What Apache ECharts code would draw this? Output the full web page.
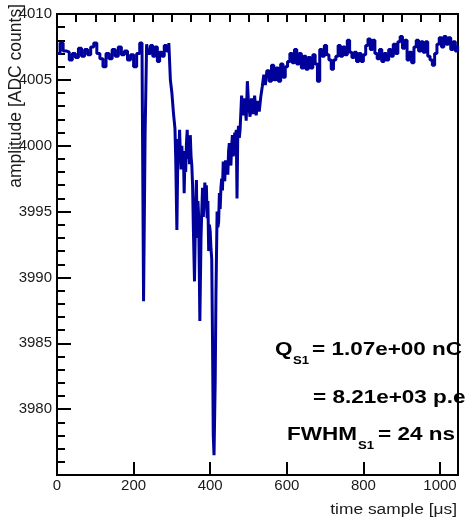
<!DOCTYPE html>
<html>
<head>
<meta charset="utf-8">
<script src="https://cdn.jsdelivr.net/npm/echarts@6.0.0/dist/echarts.min.js"></script>
<style>
  html, body { margin: 0; padding: 0; background: #fff; }
  #chart { width: 468px; height: 523px; }
</style>
</head>
<body>
<div id="chart"></div>
<script>
// Waveform of one S1 pulse as [time sample, ADC amplitude] pairs
const preTrigger = [
  [0, 4007.0], [8, 4007.8], [16, 4007.2], [24, 4007.1], [32, 4006.5], [40, 4007.0], [48, 4006.7], [56, 4007.4],
  [64, 4006.8], [72, 4007.3], [80, 4006.9], [88, 4007.5], [96, 4007.8], [104, 4007.0], [112, 4006.6], [120, 4006.0],
  [128, 4007.0], [136, 4006.6], [144, 4007.3], [152, 4006.8], [160, 4007.5], [168, 4006.9], [176, 4007.2], [184, 4006.5],
  [192, 4006.9], [200, 4006.0], [208, 4007.0], [216, 4007.8], [222, 4007.2], [226, 3988.2], [230, 4000.8], [234, 4007.7],
  [238, 4007.0], [244, 4007.6], [250, 4006.8], [256, 4007.5], [262, 4006.4], [268, 4007.1], [274, 4006.8], [280, 4007.6],
  [286, 4007.2], [292, 4007.8]
];
const pulseSamples = [
  [296, 4005.0], [300, 4004.0], [304, 4002.5], [308, 4001.3], [310, 3999.0], [313, 3993.6], [316, 4000.5], [318, 3998.8],
  [320, 4001.2], [322, 3999.5], [324, 3998.2], [326, 4000.0], [328, 3998.3], [330, 3999.6], [332, 3996.4], [334, 3999.0],
  [336, 3998.0], [338, 4000.2], [340, 4001.2], [342, 3999.0], [344, 4000.5], [346, 3998.6], [348, 4000.8], [350, 3999.2],
  [352, 3998.5], [354, 3997.0], [356, 3993.8], [359, 3989.7], [362, 3995.5], [364, 3997.4], [366, 3993.0], [368, 3995.8],
  [370, 3994.5], [373, 3986.7], [376, 3993.0], [378, 3995.0], [380, 3996.8], [382, 3994.6], [384, 3995.5], [386, 3997.2],
  [388, 3996.0], [390, 3997.0], [392, 3994.5], [394, 3995.8], [396, 3992.0], [398, 3994.0], [400, 3993.5], [402, 3992.2],
  [404, 3991.4], [406, 3985.4], [408, 3978.0], [410, 3976.5], [413, 3982.0], [415, 3988.6], [418, 3995.0], [420, 3993.8],
  [422, 3994.2], [424, 3996.4], [426, 3995.2], [428, 3996.8], [430, 3997.5], [432, 3996.6], [434, 3998.8], [436, 3997.6],
  [438, 3997.3], [440, 3998.9], [442, 3998.0], [444, 3998.6], [446, 3997.8], [448, 3999.6], [450, 4000.2], [452, 3999.0],
  [454, 3998.5], [456, 4000.0], [458, 4000.8], [460, 3999.2], [462, 3999.5], [464, 4001.0], [466, 4000.4], [468, 4001.2],
  [470, 3996.0], [472, 4000.8], [474, 4001.5], [476, 4000.6], [478, 4001.2]
];
const recoverySamples = [
  [482, 4003.8], [486, 4002.3], [490, 4003.6], [494, 4001.9], [497, 4004.9], [500, 4003.3], [504, 4002.2], [508, 4003.6],
  [512, 4002.4], [516, 4003.8], [520, 4002.3], [524, 4003.4], [528, 4002.6], [532, 4003.7], [536, 4004.5], [540, 4005.4],
  [544, 4004.6], [548, 4005.7], [554, 4004.9], [560, 4006.1], [566, 4005.0], [572, 4005.9], [578, 4004.9], [584, 4006.2],
  [590, 4005.2], [596, 4006.0], [602, 4006.4], [608, 4007.0], [614, 4006.3], [620, 4007.3], [626, 4006.2], [632, 4007.0],
  [638, 4005.9], [644, 4006.8], [650, 4005.8], [656, 4006.7], [662, 4005.9], [668, 4006.9], [674, 4006.2], [680, 4004.9],
  [686, 4007.3], [692, 4006.8], [698, 4007.6], [704, 4006.9], [710, 4006.5], [716, 4005.8], [722, 4006.5], [728, 4006.8],
  [734, 4007.6], [740, 4006.8], [746, 4007.5], [752, 4006.9], [758, 4008.0], [764, 4007.1], [770, 4006.7], [776, 4007.1],
  [782, 4006.4], [788, 4007.0], [794, 4006.4], [800, 4006.9], [806, 4007.6], [812, 4008.1], [818, 4007.3], [824, 4008.0],
  [830, 4007.0], [836, 4006.6], [842, 4007.3], [848, 4006.4], [854, 4007.0], [860, 4006.5], [866, 4007.3], [872, 4006.8],
  [878, 4007.7], [884, 4007.0], [890, 4007.9], [896, 4008.3], [902, 4007.4], [908, 4008.0], [914, 4006.5], [920, 4007.1],
  [926, 4006.3], [932, 4007.5], [938, 4008.0], [944, 4007.2], [950, 4007.9], [956, 4007.1], [962, 4007.9], [968, 4006.8],
  [974, 4006.5], [980, 4006.1], [986, 4007.0], [992, 4007.7], [998, 4008.2], [1004, 4007.5], [1010, 4008.3], [1016, 4007.7],
  [1022, 4008.2], [1028, 4007.3], [1034, 4007.9], [1040, 4007.2], [1046, 4007.6]
];

// Axis ranges and tick spacing
const timeRange = [0, 1047];
const timeMajorStep = 200;
const timeMinorStep = 50;
const ampRange = [3975, 4010];
const ampMajorStep = 5;
const ampMinorStep = 1;

// Pulse summary shown in the lower right
const chargeText = '= 1.07e+00 nC';
const photoElectronText = '= 8.21e+03 p.e';
const fwhmText = '= 24 ns';

const FONT = 'Liberation Sans';
const waveform = preTrigger.concat(pulseSamples, recoverySamples);

const chart = echarts.init(document.getElementById('chart'), null, { renderer: 'canvas' });

const tickAxisCommon = {
  axisLine: { show: false },
  axisLabel: { show: false },
  splitLine: { show: false }
};
const plainNumber = v => String(Math.round(v));

chart.setOption({
  animation: false,
  backgroundColor: '#ffffff',
  grid: {
    left: 57, right: 10, top: 14, bottom: 48,
    show: true, borderColor: '#000', borderWidth: 2, backgroundColor: 'transparent'
  },
  xAxis: [
    {
      type: 'value', min: timeRange[0], max: timeRange[1], interval: timeMajorStep,
      axisLine: { lineStyle: { color: '#000', width: 2 } },
      axisTick: { inside: true, length: 13, lineStyle: { color: '#000', width: 2 } },
      axisLabel: { showMaxLabel: false, margin: 3, color: '#1a1a1a', fontFamily: FONT, fontSize: 15, formatter: plainNumber },
      splitLine: { show: false }
    },
    Object.assign({
      type: 'value', min: timeRange[0], max: timeRange[1], interval: timeMinorStep,
      axisTick: { inside: true, length: 8, lineStyle: { color: '#000', width: 2 } }
    }, tickAxisCommon)
  ],
  yAxis: [
    {
      type: 'value', min: ampRange[0], max: ampRange[1], interval: ampMajorStep,
      axisLine: { lineStyle: { color: '#000', width: 2 } },
      axisTick: { inside: true, length: 14, lineStyle: { color: '#000', width: 2 } },
      axisLabel: { showMinLabel: false, margin: 5, color: '#1a1a1a', fontFamily: FONT, fontSize: 15, formatter: plainNumber },
      splitLine: { show: false }
    },
    Object.assign({
      type: 'value', position: 'left', min: ampRange[0], max: ampRange[1], interval: ampMinorStep,
      axisTick: { inside: true, length: 8, lineStyle: { color: '#000', width: 2 } }
    }, tickAxisCommon)
  ],
  series: [{
    type: 'line',
    xAxisIndex: 0,
    yAxisIndex: 0,
    data: waveform,
    step: 'end',
    showSymbol: false,
    clip: true,
    lineStyle: { color: '#00009a', width: 3 }
  }],
  graphic: {
    elements: [
      // axis titles
      {
        type: 'text', x: 16, y: 4, rotation: Math.PI / 2,
        style: { text: 'amplitude [ADC counts]', fontFamily: FONT, fontSize: 17.5, fill: '#1a1a1a', align: 'right', verticalAlign: 'middle' }
      },
      {
        type: 'text', x: 457, y: 510, scaleX: 1.24,
        style: { text: 'time sample [\u03bcs]', fontFamily: FONT, fontSize: 14, fill: '#1a1a1a', align: 'right', verticalAlign: 'middle' }
      },
      // pulse summary
      { type: 'text', x: 275, y: 350, scaleX: 1.25, z: 10,
        style: { text: 'Q', fontFamily: FONT, fontWeight: 'bold', fontSize: 18, fill: '#000', align: 'left', verticalAlign: 'middle' } },
      { type: 'text', x: 293, y: 361, scaleX: 1.25, z: 10,
        style: { text: 'S1', fontFamily: FONT, fontWeight: 'bold', fontSize: 10.5, fill: '#000', align: 'left', verticalAlign: 'middle' } },
      { type: 'text', x: 312, y: 350, scaleX: 1.25, z: 10,
        style: { text: chargeText, fontFamily: FONT, fontWeight: 'bold', fontSize: 18, fill: '#000', align: 'left', verticalAlign: 'middle' } },
      { type: 'text', x: 313, y: 398, scaleX: 1.25, z: 10,
        style: { text: photoElectronText, fontFamily: FONT, fontWeight: 'bold', fontSize: 18, fill: '#000', align: 'left', verticalAlign: 'middle' } },
      { type: 'text', x: 287, y: 435, scaleX: 1.25, z: 10,
        style: { text: 'FWHM', fontFamily: FONT, fontWeight: 'bold', fontSize: 18, fill: '#000', align: 'left', verticalAlign: 'middle' } },
      { type: 'text', x: 358, y: 446, scaleX: 1.25, z: 10,
        style: { text: 'S1', fontFamily: FONT, fontWeight: 'bold', fontSize: 10.5, fill: '#000', align: 'left', verticalAlign: 'middle' } },
      { type: 'text', x: 378, y: 435, scaleX: 1.25, z: 10,
        style: { text: fwhmText, fontFamily: FONT, fontWeight: 'bold', fontSize: 18, fill: '#000', align: 'left', verticalAlign: 'middle' } }
    ]
  }
});
</script>
</body>
</html>
